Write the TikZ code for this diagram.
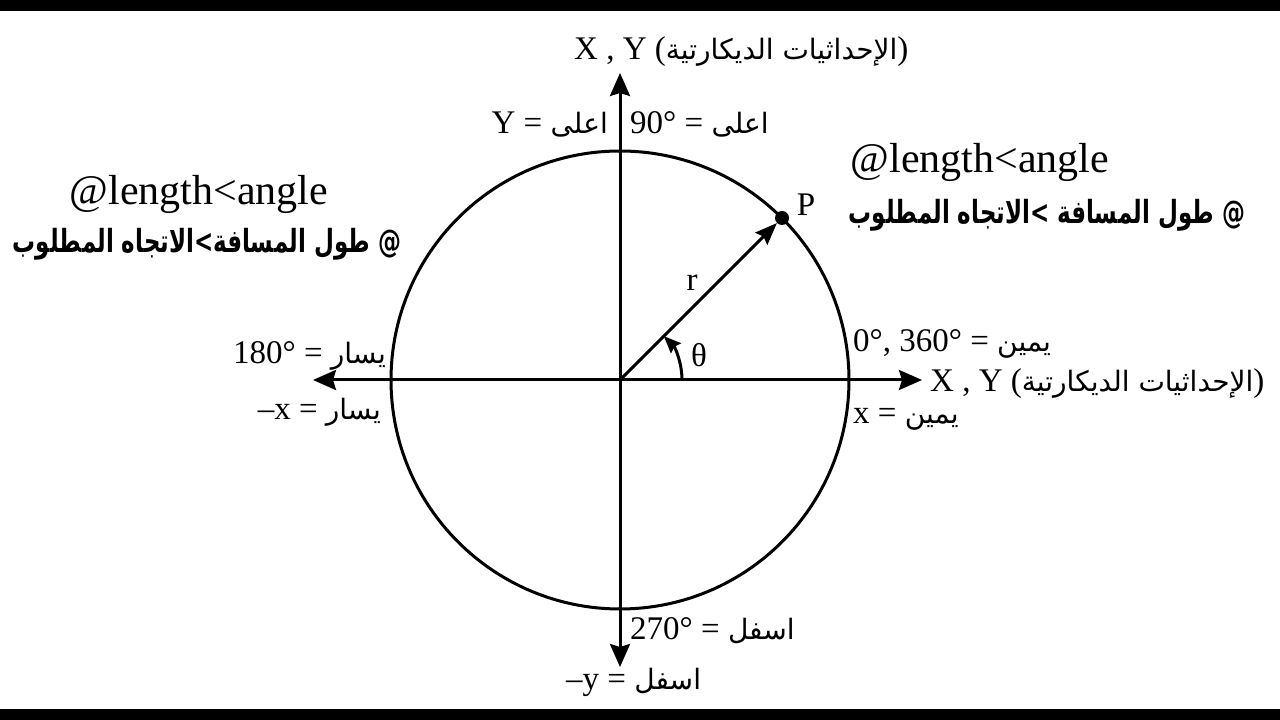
\documentclass[tikz,border=0pt]{standalone}
\usepackage{fontspec}
\setmainfont{Liberation Serif}
\newfontfamily\ar[Script=Arabic,Scale=0.85]{DejaVu Sans}
\newfontfamily\arb[Script=Arabic,Scale=0.85,FakeStretch=0.72]{DejaVu Sans}
\TeXXeTstate=1
\usetikzlibrary{arrows.meta}
\begin{document}
\begin{tikzpicture}[x=1pt,y=1pt,
  lbl/.style={font=\fontsize{33}{38}\selectfont, inner sep=0pt},
  big/.style={font=\fontsize{42}{48}\selectfont, inner sep=0pt},
  arbold/.style={font=\arb\bfseries\fontsize{37.5}{44}\selectfont, inner sep=0pt},
  axis/.style={line width=3pt, {Stealth[length=23pt,width=20pt,inset=3pt]}-{Stealth[length=23pt,width=20pt,inset=3pt]}},
  vec/.style={line width=3pt, -{Stealth[length=22pt,width=17pt,inset=3pt]}},
  angarrow/.style={line width=3pt, -{Stealth[length=17pt,width=14pt,inset=2pt]}},
  ring/.style={line width=3pt},
  pdot/.style={circle, fill=black, inner sep=0pt, minimum size=14pt}]
\useasboundingbox (0,0) rectangle (1280,720);
\fill[white] (0,0) rectangle (1280,720);
\fill[black] (0,709) rectangle (1280,720);
\fill[black] (0,0) rectangle (1280,11);

\coordinate (O) at (620,340);
\coordinate (L) at (313,340);
\coordinate (R) at (922,340);
\coordinate (T) at (620,647);
\coordinate (B) at (620,53);
\coordinate (A0) at (682,340);

\draw[ring] (O) circle[radius=229];
\draw[axis] (L) -- (R);
\draw[axis] (B) -- (T);
\node[pdot] (P) at (782,502) {};
\draw[vec] (O) -- (P);
\draw[angarrow] (A0) arc[start angle=0,end angle=45,radius=62];

\node[lbl] (Plbl) at (806,515) {P};
\node[lbl] (rlbl) at (692,437) {r};
\node[lbl] (thlbl) at (699,365) {θ};

\node[lbl, anchor=base west] (topax) at (574,660) {X , Y ({\ar\beginR الإحداثيات الديكارتية\endR})};
\node[lbl, anchor=base west] (rightax) at (930,328) {X , Y ({\ar\beginR الإحداثيات الديكارتية\endR})};

\node[lbl, anchor=base east] (yup) at (608,586) {Y = {\ar اعلى}};
\node[lbl, anchor=base west] (d90) at (630,586) {90° = {\ar اعلى}};
\node[lbl, anchor=base east] (d180) at (386,356) {180° = {\ar يسار}};
\node[lbl, anchor=base east] (mx) at (381,300) {–x = {\ar يسار}};
\node[lbl, anchor=base west] (d0) at (853,368) {0°, 360° = {\ar يمين}};
\node[lbl, anchor=base west] (px) at (853,296) {x = {\ar يمين}};
\node[lbl, anchor=base west] (d270) at (630,80) {270° = {\ar اسفل}};
\node[lbl, anchor=base west] (my) at (566,30) {–y = {\ar اسفل}};

\node[big, anchor=base] (la) at (199,515) {@length<angle};
\node[arbold, anchor=base] (lar) at (207,467) {{\beginR الاتجاه المطلوب\endR}>{\beginR طول المسافة\endR} @};
\node[big, anchor=base] (ra) at (980,547) {@length<angle};
\node[arbold, anchor=base] (rar) at (1047,496) {{\beginR الاتجاه المطلوب\endR}> {\beginR طول المسافة\endR} @};
\end{tikzpicture}
\end{document}
